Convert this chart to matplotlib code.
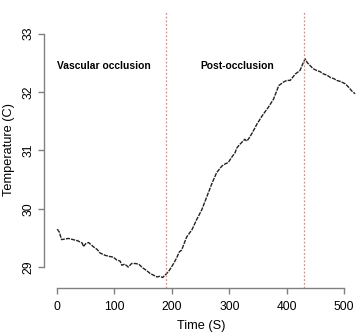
import numpy as np
import matplotlib
matplotlib.use("Agg")
import matplotlib.pyplot as plt

# temperature trace
time_s = [0.5, 4, 8, 14, 20, 28, 36, 44, 46, 50, 55, 63, 70, 75, 84, 92, 98, 104, 110, 113,
          118, 124, 130, 136, 142, 150, 156, 162, 168, 174, 179, 184, 188, 194, 198, 203, 208,
          213, 217, 222, 226, 235, 243, 252, 261, 270, 278, 287, 293, 298, 304, 310, 313,
          318, 327, 330, 333, 340, 348, 357, 362, 368, 377, 386, 394, 400, 406, 415, 423,
          429, 432, 436, 441, 446, 452, 458, 464, 470, 476, 482, 487, 494, 502, 508, 513, 519]
temp_c = [29.65, 29.6, 29.47, 29.48, 29.49, 29.47, 29.45, 29.41, 29.35, 29.4, 29.42, 29.35,
          29.3, 29.24, 29.2, 29.18, 29.17, 29.12, 29.1, 29.03, 29.05, 29.0, 29.06, 29.06,
          29.05, 28.98, 28.94, 28.89, 28.86, 28.83, 28.84, 28.82, 28.86, 28.92, 28.98, 29.06,
          29.15, 29.26, 29.29, 29.42, 29.52, 29.64, 29.81, 29.98, 30.21, 30.44, 30.62, 30.73,
          30.77, 30.79, 30.88, 30.96, 31.04, 31.1, 31.19, 31.16, 31.19, 31.3, 31.45, 31.59,
          31.66, 31.74, 31.88, 32.11, 32.17, 32.2, 32.2, 32.31, 32.37, 32.51, 32.57, 32.5,
          32.45, 32.4, 32.37, 32.35, 32.31, 32.29, 32.25, 32.23, 32.2, 32.18, 32.14, 32.08,
          32.02, 31.97]

event_times = [190, 430]
x_ticks = [0, 100, 200, 300, 400, 500]
y_ticks = [29, 30, 31, 32, 33]

plt.rcParams['font.family'] = ['Liberation Sans', 'DejaVu Sans']

fig = plt.figure(figsize=(3.58, 3.33), dpi=100)
ax = fig.add_axes([44 / 358, 45 / 333, 314 / 358, 277 / 333])

ax.plot(time_s, temp_c, color='#222222', lw=1.0, ls=(0, (3, 0.8)))
for t in event_times:
    ax.axvline(t, color='#e58a8a', lw=0.9, ls=(0, (1.5, 1.5)))

ax.set_xlim(-22.6, 524)
ax.set_ylim(28.64, 33.39)

for side in ['top', 'right']:
    ax.spines[side].set_visible(False)
ax.spines['left'].set_bounds(29, 33)
ax.spines['bottom'].set_bounds(0, 500)
for side in ['left', 'bottom']:
    ax.spines[side].set_color('#808080')
    ax.spines[side].set_linewidth(1.0)

ax.set_xticks(x_ticks)
ax.set_yticks(y_ticks)
ax.tick_params(colors='#808080', labelcolor='black', length=4.5, width=1.0, labelsize=8.7)
ax.tick_params(axis='x', pad=5.0)
ax.tick_params(axis='y', pad=2.5)
for lab in ax.get_yticklabels():
    lab.set_rotation(90)
    lab.set_va('center')

ax.set_xlabel('Time (S)', fontsize=9.2)
ax.set_ylabel('Temperature (C)', fontsize=9.2)
ax.xaxis.set_label_coords(0.5, -38 / 277)
ax.xaxis.label.set_va('center')
ax.yaxis.set_label_coords(-35 / 314, 0.5)
ax.yaxis.label.set_va('center')

ax.text(0, 32.45, 'Vascular occlusion', fontsize=7.4, fontweight='bold', va='center', ha='left')
ax.text(314, 32.45, 'Post-occlusion', fontsize=7.4, fontweight='bold', va='center', ha='center')

fig.savefig('out.png', dpi=100)
